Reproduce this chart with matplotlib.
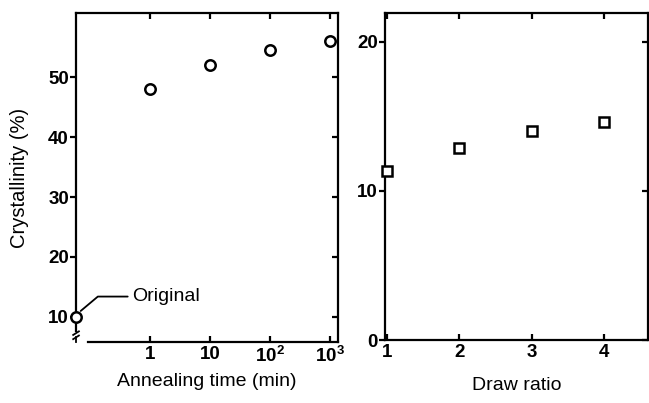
import numpy as np
import matplotlib as mpl
mpl.use('Agg')
import matplotlib.pyplot as plt
from matplotlib.ticker import NullLocator

plt.rcParams['font.family'] = ['Liberation Sans', 'DejaVu Sans']
plt.rcParams['mathtext.default'] = 'regular'

# annealing series (left panel)
anneal_time = [1, 10, 100, 1000]
anneal_cryst = [48.0, 52.0, 54.5, 56.0]
original_cryst = 10.0
anneal_ticks = [1, 10, 100, 1000]
anneal_ticklabels = ['1', '10', '$10^2$', '$10^3$']

# drawing series (right panel)
draw_ratio = [1, 2, 3, 4]
draw_cryst = [11.3, 12.9, 14.0, 14.6]

fig = plt.figure(figsize=(6.49, 4.03), dpi=100)
ax1 = fig.add_axes([0.117, 0.151, 0.404, 0.817])
ax2 = fig.add_axes([0.593, 0.156, 0.405, 0.811])

lw = 1.6
tfs = 13.5   # tick label size
lfs = 14     # axis label size
for ax in (ax1, ax2):
    for s in ax.spines.values():
        s.set_linewidth(lw)

# ---- left panel
xmin, xmax = 10**-1.23, 10**3.13
ax1.set_xscale('log')
ax1.set_xlim(xmin, xmax)
ax1.set_ylim(5.8, 60.7)
ax1.plot(anneal_time, anneal_cryst, 'o', ms=7.5, mfc='white', mec='black', mew=1.8)
ax1.plot([xmin], [original_cryst], 'o', ms=7.5, mfc='white', mec='black', mew=1.8,
         clip_on=False, zorder=5)
ax1.set_xticks(anneal_ticks)
ax1.set_xticklabels(anneal_ticklabels)
ax1.xaxis.set_minor_locator(NullLocator())
ax1.set_yticks([10, 20, 30, 40, 50])
ax1.tick_params(axis='y', direction='out', length=4, width=lw, right=True,
                labelsize=tfs, pad=1)
ax1.tick_params(axis='x', direction='in', length=4, width=lw, top=True,
                labelsize=tfs, pad=3)
for lab in ax1.get_xticklabels() + ax1.get_yticklabels():
    lab.set_fontweight('bold')
# right spine ticks point inward
for t in ax1.yaxis.get_major_ticks():
    t.tick2line.set_marker(mpl.markers.TICKLEFT)
ax1.set_xlabel('Annealing time (min)', fontsize=lfs)
ax1.xaxis.set_label_coords(0.5, -0.094)
ax1.set_ylabel('Crystallinity (%)', fontsize=lfs + 0.5)
ax1.yaxis.set_label_coords(-0.18, 0.5)

# axis break
ax1.spines['bottom'].set_bounds(10**-1.03, xmax)
ax1.spines['left'].set_bounds(7.6, 60.7)
ax1.plot([xmin * 0.9, xmin * 1.12], [7.0, 7.6], color='black', lw=1.3, clip_on=False)
ax1.plot([xmin * 0.9, xmin * 1.12], [6.3, 6.9], color='black', lw=1.3, clip_on=False)
ax1.plot([xmin, xmin], [5.8, 6.6], color='black', lw=1.3, clip_on=False)
ax1.annotate('Original', xy=(xmin * 1.2, 11.0), xytext=(10**-0.3, 13.4),
             fontsize=lfs, va='center',
             arrowprops=dict(arrowstyle='-', color='black', lw=1.3,
                             connectionstyle='angle,angleA=0,angleB=40,rad=0',
                             shrinkA=1, shrinkB=0))

# ---- right panel
ax2.set_xlim(0.97, 4.6)
ax2.set_ylim(0, 21.9)
ax2.plot(draw_ratio, draw_cryst, 's', ms=6.5, mfc='white', mec='black', mew=1.8,
         clip_on=False, zorder=5)
ax2.set_xticks([1, 2, 3, 4])
ax2.set_yticks([0, 10, 20])
ax2.tick_params(axis='y', direction='out', length=4, width=lw, right=True,
                labelsize=tfs, pad=1)
ax2.tick_params(axis='x', direction='in', length=4, width=lw, top=True,
                labelsize=tfs, pad=3)
for t in ax2.yaxis.get_major_ticks():
    t.tick2line.set_marker(mpl.markers.TICKLEFT)
for lab in ax2.get_xticklabels() + ax2.get_yticklabels():
    lab.set_fontweight('bold')
ax2.set_xlabel('Draw ratio', fontsize=lfs)
ax2.xaxis.set_label_coords(0.5, -0.113)

fig.savefig('out.png', dpi=100)
